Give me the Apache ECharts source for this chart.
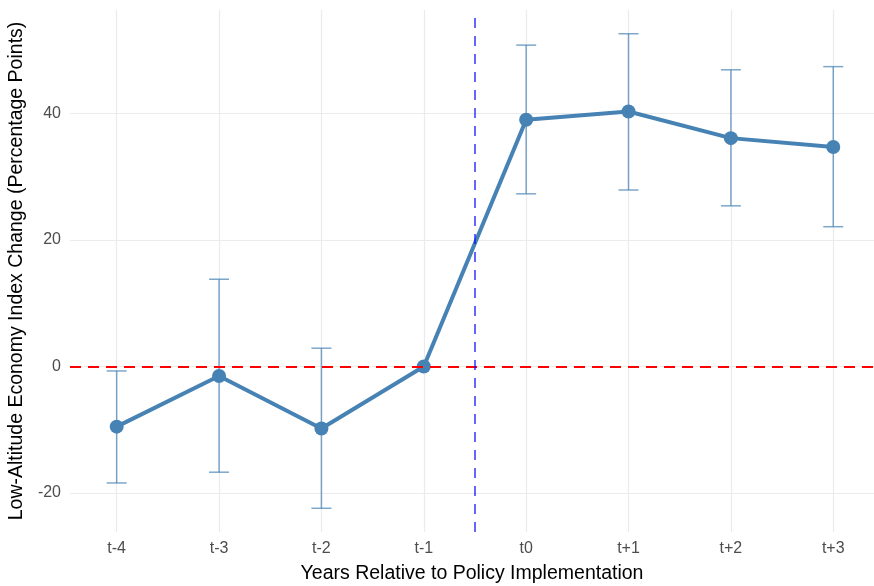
<!DOCTYPE html>
<html>
<head>
<meta charset="utf-8">
<script src="https://cdn.jsdelivr.net/npm/echarts@6/dist/echarts.min.js"></script>
<style>
html,body{margin:0;padding:0;background:#fff;}
#chart{width:874px;height:586px;}
</style>
</head>
<body>
<div id="chart"></div>
<script>
const categories = ['t-4','t-3','t-2','t-1','t0','t+1','t+2','t+3'];
const estimates = [-9.5, -1.5, -9.8, 0, 39.0, 40.3, 36.1, 34.7];
const ciLower = [-18.4, -16.7, -22.4, null, 27.3, 27.9, 25.4, 22.1];
const ciUpper = [-0.7, 13.8, 2.9, null, 50.8, 52.6, 46.9, 47.4];
const yTicks = [-20, 0, 20, 40];
const policyBreak = 3.5;

const xIdx = categories.map((c, i) => i);
const lineData = estimates.map((v, i) => [i, v]);
const errData = categories.map((c, i) => [i, ciLower[i], ciUpper[i]]).filter(d => d[1] !== null);

const chart = echarts.init(document.getElementById('chart'), null, {renderer: 'canvas'});
const font = 'Liberation Sans, Arial, sans-serif';

chart.setOption({
  animation: false,
  backgroundColor: '#ffffff',
  grid: {left: 70, right: 0, top: 10, bottom: 54, containLabel: false, outerBoundsMode: 'none'},
  xAxis: {
    type: 'value',
    min: -0.456, max: 7.398,
    name: 'Years Relative to Policy Implementation',
    nameLocation: 'middle',
    nameGap: 32,
    nameTextStyle: {color: '#000', fontSize: 19.5, fontFamily: font},
    axisLine: {show: false},
    axisTick: {show: false, customValues: xIdx},
    axisLabel: {customValues: xIdx, formatter: v => categories[v], color: '#4D4D4D', fontSize: 16, fontFamily: font, margin: 9},
    splitLine: {show: true, lineStyle: {color: '#EBEBEB', width: 1.2}}
  },
  yAxis: {
    type: 'value',
    min: -26.15, max: 56.35,
    name: 'Low-Altitude Economy Index Change (Percentage Points)',
    nameLocation: 'middle',
    nameGap: 38,
    nameTextStyle: {color: '#000', fontSize: 19.5, fontFamily: font},
    axisLine: {show: false},
    axisTick: {show: false, customValues: yTicks},
    axisLabel: {customValues: yTicks, color: '#4D4D4D', fontSize: 16, fontFamily: font, margin: 9},
    splitLine: {show: true, lineStyle: {color: '#EBEBEB', width: 1.2}}
  },
  series: [
    {
      type: 'line',
      data: [],
      z: 1,
      silent: true,
      markLine: {
        symbol: 'none',
        silent: true,
        label: {show: false},
        data: [
          {yAxis: 0, lineStyle: {color: '#FF0000', width: 2.2, type: [11, 7]}},
          {xAxis: policyBreak, lineStyle: {color: 'rgba(0,0,255,0.6)', width: 2, type: [10, 8]}}
        ]
      }
    },
    {
      type: 'custom',
      z: 2,
      silent: true,
      data: errData,
      renderItem: function (params, api) {
        const x = api.value(0);
        const lo = api.coord([x, api.value(1)]);
        const hi = api.coord([x, api.value(2)]);
        const hw = 10;
        const style = {stroke: 'rgba(70,130,180,0.7)', lineWidth: 1.5, fill: null};
        return {
          type: 'group',
          children: [
            {type: 'line', shape: {x1: lo[0], y1: lo[1], x2: hi[0], y2: hi[1]}, style: style},
            {type: 'line', shape: {x1: lo[0] - hw, y1: lo[1], x2: lo[0] + hw, y2: lo[1]}, style: style},
            {type: 'line', shape: {x1: hi[0] - hw, y1: hi[1], x2: hi[0] + hw, y2: hi[1]}, style: style}
          ]
        };
      }
    },
    {
      type: 'line',
      z: 3,
      data: lineData,
      symbol: 'circle',
      symbolSize: 14,
      itemStyle: {color: '#4682B4'},
      lineStyle: {color: '#4682B4', width: 4}
    }
  ]
});
</script>
</body>
</html>
